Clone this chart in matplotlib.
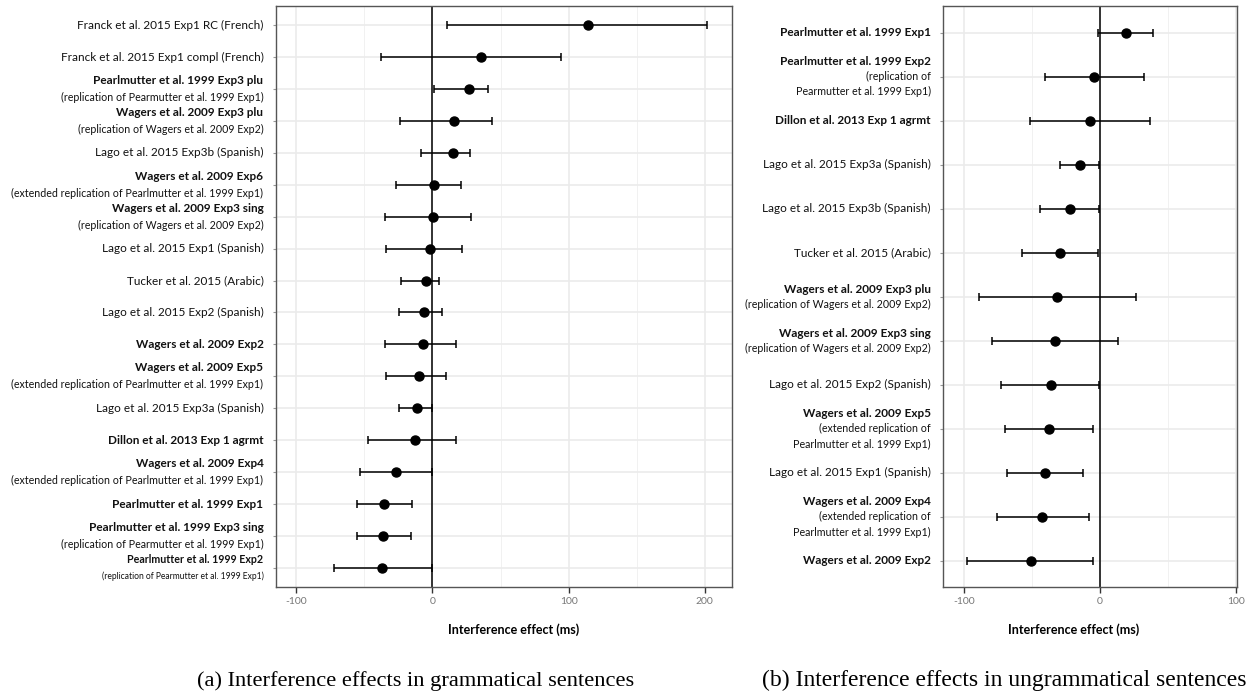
import numpy as np
import matplotlib.pyplot as plt
from matplotlib.ticker import MultipleLocator

plt.rcParams['font.family'] = ['Lato', 'DejaVu Sans']
plt.rcParams['axes.unicode_minus'] = False

# (a) grammatical sentences, top to bottom
left_names = ["Franck et al. 2015 Exp1 RC (French)",
              "Franck et al. 2015 Exp1 compl (French)",
              "Pearlmutter et al. 1999 Exp3 plu",
              "Wagers et al. 2009 Exp3 plu",
              "Lago et al. 2015 Exp3b (Spanish)",
              "Wagers et al. 2009 Exp6",
              "Wagers et al. 2009 Exp3 sing",
              "Lago et al. 2015 Exp1 (Spanish)",
              "Tucker et al. 2015 (Arabic)",
              "Lago et al. 2015 Exp2 (Spanish)",
              "Wagers et al. 2009 Exp2",
              "Wagers et al. 2009 Exp5",
              "Lago et al. 2015 Exp3a (Spanish)",
              "Dillon et al. 2013 Exp 1 agrmt",
              "Wagers et al. 2009 Exp4",
              "Pearlmutter et al. 1999 Exp1",
              "Pearlmutter et al. 1999 Exp3 sing",
              "Pearlmutter et al. 1999 Exp2"]
left_notes = ["", "",
              "(replication of Pearmutter et al. 1999 Exp1)",
              "(replication of Wagers et al. 2009 Exp2)",
              "",
              "(extended replication of Pearlmutter et al. 1999 Exp1)",
              "(replication of Wagers et al. 2009 Exp2)",
              "", "", "", "",
              "(extended replication of Pearlmutter et al. 1999 Exp1)",
              "", "",
              "(extended replication of Pearlmutter et al. 1999 Exp1)",
              "",
              "(replication of Pearmutter et al. 1999 Exp1)",
              "(replication of Pearmutter et al. 1999 Exp1)"]
left_bold = [False, False, True, True, False, True, True, False, False,
             False, True, True, False, True, True, True, True, True]
left_mean = [114.5, 35.7, 26.9, 15.9, 14.9, 1.2, 0.7, -2.2, -4.6,
             -6.1, -7.3, -10.0, -11.2, -13.2, -27.1, -35.7, -36.4, -36.9]
left_lo = [10.5, -37.6, 1.2, -23.9, -8.3, -26.6, -34.9, -34.2, -23.0,
           -24.4, -35.2, -34.2, -24.7, -47.7, -53.5, -55.2, -55.7, -72.3]
left_hi = [201.8, 94.2, 40.9, 43.8, 27.9, 21.1, 28.6, 21.8, 5.1,
           7.3, 16.9, 9.8, -0.5, 17.4, -0.7, -15.4, -15.8, -0.2]

# (b) ungrammatical sentences, top to bottom
right_names = ["Pearlmutter et al. 1999 Exp1",
               "Pearlmutter et al. 1999 Exp2",
               "Dillon et al. 2013 Exp 1 agrmt",
               "Lago et al. 2015 Exp3a (Spanish)",
               "Lago et al. 2015 Exp3b (Spanish)",
               "Tucker et al. 2015 (Arabic)",
               "Wagers et al. 2009 Exp3 plu",
               "Wagers et al. 2009 Exp3 sing",
               "Lago et al. 2015 Exp2 (Spanish)",
               "Wagers et al. 2009 Exp5",
               "Lago et al. 2015 Exp1 (Spanish)",
               "Wagers et al. 2009 Exp4",
               "Wagers et al. 2009 Exp2"]
right_notes = ["",
               "(replication of\nPearmutter et al. 1999 Exp1)",
               "", "", "", "",
               "(replication of Wagers et al. 2009 Exp2)",
               "(replication of Wagers et al. 2009 Exp2)",
               "",
               "(extended replication of\nPearlmutter et al. 1999 Exp1)",
               "",
               "(extended replication of\nPearlmutter et al. 1999 Exp1)",
               ""]
right_bold = [True, True, True, False, False, False, True, True,
              False, True, False, True, True]
right_mean = [19.1, -4.4, -7.3, -14.9, -22.0, -29.3, -31.1, -33.0,
              -35.9, -37.2, -40.3, -42.1, -50.6]
right_lo = [-1.0, -40.3, -51.1, -29.1, -43.8, -57.2, -88.7, -79.2,
            -72.4, -69.4, -68.0, -75.8, -97.5]
right_hi = [39.1, 32.3, 37.1, -0.7, -0.3, -1.0, 26.4, 13.2,
            -0.3, -5.1, -12.2, -7.8, -5.1]


def draw_panel(ax, names, notes, bold, mean, lo, hi, xlim, xticks,
               label_x, pitch, small_rows=()):
    n = len(names)
    y = np.arange(n, 0, -1)
    mean = np.array(mean)
    lo = np.array(lo)
    hi = np.array(hi)

    ax.set_xlim(*xlim)
    ax.set_ylim(0.4, n + 0.6)
    ax.set_xticks(xticks)
    ax.xaxis.set_minor_locator(MultipleLocator(50))
    ax.set_yticks(y)
    ax.set_yticklabels([])
    ax.grid(which='major', color='#ebebeb', lw=1.2)
    ax.grid(which='minor', axis='x', color='#efefef', lw=0.6)
    ax.set_axisbelow(True)

    ax.axvline(0, color='black', lw=1.1, zorder=2)
    ax.errorbar(mean, y, xerr=[mean - lo, hi - mean], fmt='o', color='black',
                ms=6.5, capsize=3, elinewidth=1.1, capthick=1.1, zorder=3)

    for s in ax.spines.values():
        s.set_color('#555555')
        s.set_linewidth(1.0)
    ax.tick_params(axis='x', which='major', length=4, width=1, color='#333333',
                   labelcolor='#777777', labelsize=7.5, pad=3)
    ax.tick_params(axis='x', which='minor', length=0)
    ax.tick_params(axis='y', length=2.5, width=0.8, color='#999999')
    ax.set_xlabel('Interference effect (ms)', fontsize=9, fontweight='bold')
    ax.xaxis.set_label_coords(label_x, -0.062)

    # row labels: first line (bold or plain), then the smaller note lines
    for i in range(n):
        small = i in small_rows
        lines = [(names[i], 'bold' if bold[i] else 'normal', 8.5 * (0.9 if small else 1.0))]
        if notes[i]:
            for part in notes[i].split('\n'):
                lines.append((part, 'normal', 7.7 * (0.8 if small else 1.0)))
        L = len(lines)
        for k, (txt, w, fs) in enumerate(lines):
            off = pitch * ((L - 1) / 2 - k)
            ax.annotate(txt, xy=(0, y[i]), xycoords=('axes fraction', 'data'),
                        xytext=(-9, off), textcoords='offset points',
                        ha='right', va='center', fontsize=fs, fontweight=w,
                        color='#111111')


fig = plt.figure(figsize=(12.56, 6.96), dpi=100)
ax1 = fig.add_axes([0.2197, 0.1566, 0.3631, 0.8348])
ax2 = fig.add_axes([0.7510, 0.1562, 0.2341, 0.8348])

draw_panel(ax1, left_names, left_notes, left_bold, left_mean, left_lo, left_hi,
           (-115, 220), [-100, 0, 100, 200], 0.522, 12, small_rows=(17,))
draw_panel(ax2, right_names, right_notes, right_bold, right_mean, right_lo,
           right_hi, (-115, 101), [-100, 0, 100], 0.443, 11)

fig.text(0.157, 0.022, '(a) Interference effects in grammatical sentences',
         family='Liberation Serif', fontsize=16.1, ha='left', va='center')
fig.text(0.6065, 0.022, '(b) Interference effects in ungrammatical sentences',
         family='Liberation Serif', fontsize=17.0, ha='left', va='center')

fig.savefig('out.png', dpi=100)
